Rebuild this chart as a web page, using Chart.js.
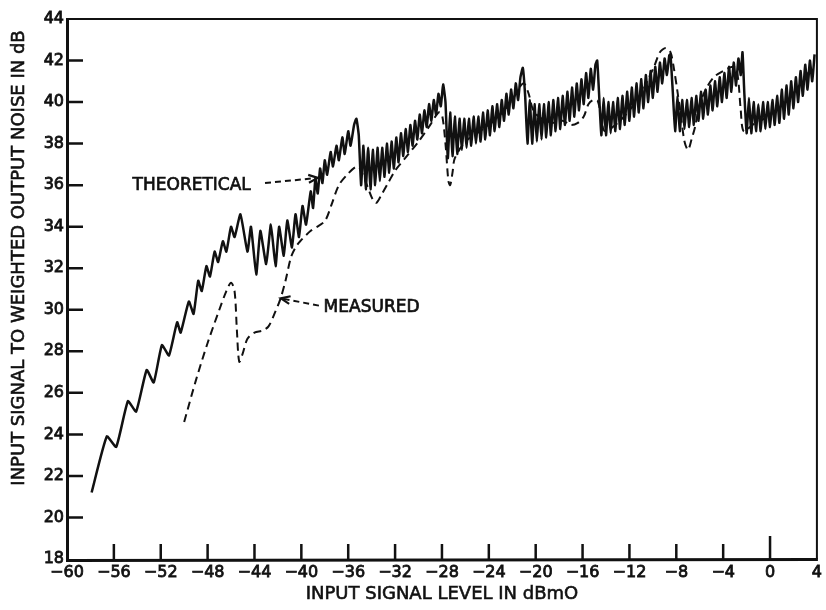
<!DOCTYPE html>
<html>
<head>
<meta charset="utf-8">
<script src="https://cdn.jsdelivr.net/npm/chart.js@4"></script>
<style>
  body { margin: 0; background: #fff; }
  canvas { display: block; }
</style>
</head>
<body>
<canvas id="chart" width="826" height="610"></canvas>
<script>
// input level (dBm0) vs S/N (dB)
const theoretical = [
  [-57.9,21.2],[-56.6,23.9],[-55.8,23.4],[-54.8,25.6],[-54.1,25.1],[-53.2,27.1],[-52.6,26.5],
  [-51.9,28.3],[-51.3,27.8],[-50.6,29.4],[-50.3,28.9],[-49.6,30.4],[-49.2,29.8],[-48.8,31.4],
  [-48.5,30.9],[-48.1,32.1],[-47.8,31.6],[-47.4,32.8],[-47.1,32.3],[-46.7,33.3],[-46.4,32.8],
  [-46.0,34.0],[-45.7,33.5],[-45.2,34.6],[-44.6,32.8],[-44.3,34.0],[-43.85,31.7],[-43.5,33.8],
  [-43.0,32.2],[-42.6,34.1],[-42.2,32.1],[-41.9,34.0],[-41.5,32.6],[-41.2,34.3],[-40.8,33.0],
  [-40.5,34.6],[-40.2,33.5],[-39.9,35.0],[-39.6,34.1],[-39.2,35.7],[-39.0,34.9],[-38.8,36.3],
  [-38.6,35.6],[-38.4,36.8],[-38.2,36.1],[-38.0,37.2],[-37.8,36.5],[-37.5,37.6],[-37.3,36.9],
  [-37.0,37.9],[-36.8,37.2],[-36.5,38.3],[-36.3,37.5],[-36.0,38.6],[-35.8,37.9],[-35.5,38.9],
  [-35.3,39.2],
  [-35.1,38.4],[-34.9,36.0],[-34.7,37.9],[-34.5,35.8],[-34.3,37.8],[-34.1,35.8],[-33.9,37.7],
  [-33.7,36.0],[-33.5,37.8],[-33.3,36.2],[-33.1,37.8],[-32.9,36.4],[-32.7,38.0],[-32.5,36.6],
  [-32.3,38.1],[-32.1,36.8],[-31.9,38.3],[-31.7,37.1],[-31.5,38.5],[-31.3,37.4],[-31.1,38.7],
  [-30.9,37.6],[-30.7,38.9],[-30.5,37.9],[-30.3,39.1],[-30.1,38.2],[-29.9,39.4],[-29.7,38.5],
  [-29.5,39.6],[-29.3,38.8],[-29.1,39.9],[-28.9,39.1],[-28.7,40.1],[-28.5,39.4],[-28.3,40.4],
  [-28.1,39.8],[-27.9,40.85],
  [-27.7,40.0],[-27.5,37.3],[-27.3,39.5],[-27.1,37.4],[-26.9,39.3],[-26.7,37.5],[-26.5,39.2],
  [-26.3,37.7],[-26.1,39.2],[-25.9,37.8],[-25.7,39.2],[-25.5,37.9],[-25.3,39.3],[-25.1,38.0],
  [-24.9,39.3],[-24.7,38.1],[-24.5,39.5],[-24.3,38.2],[-24.1,39.6],[-23.9,38.4],[-23.7,39.8],
  [-23.5,38.6],[-23.3,39.9],[-23.1,38.8],[-22.9,40.1],[-22.7,39.1],[-22.5,40.4],[-22.3,39.4],
  [-22.1,40.6],[-21.9,39.7],[-21.7,40.9],[-21.5,40.1],[-21.3,41.2],[-21.1,41.65],
  [-20.9,40.3],[-20.7,38.0],[-20.5,40.1],[-20.3,38.0],[-20.1,39.9],[-19.9,38.1],[-19.7,39.9],
  [-19.5,38.2],[-19.3,39.9],[-19.1,38.3],[-18.9,40.0],[-18.7,38.4],[-18.5,40.1],[-18.3,38.6],
  [-18.1,40.2],[-17.9,38.7],[-17.7,40.3],[-17.5,38.9],[-17.3,40.5],[-17.1,39.1],[-16.9,40.7],
  [-16.7,39.3],[-16.5,40.9],[-16.3,39.6],[-16.1,41.1],[-15.9,39.9],[-15.7,41.4],[-15.5,40.2],
  [-15.3,41.6],[-15.1,40.6],[-14.9,41.8],[-14.75,42.0],
  [-14.6,40.5],[-14.4,38.4],[-14.2,40.2],[-14.0,38.4],[-13.8,40.0],[-13.6,38.5],[-13.4,40.0],
  [-13.2,38.6],[-13.0,40.2],[-12.8,38.7],[-12.6,40.3],[-12.4,38.9],[-12.2,40.5],[-12.0,39.1],
  [-11.8,40.7],[-11.6,39.3],[-11.4,40.9],[-11.2,39.5],[-11.0,41.1],[-10.8,39.7],[-10.6,41.3],
  [-10.4,40.0],[-10.2,41.5],[-10.0,40.2],[-9.8,41.7],[-9.6,40.5],[-9.4,41.9],[-9.2,40.9],
  [-9.0,42.1],[-8.8,41.3],[-8.6,42.25],[-8.5,42.3],
  [-8.3,40.5],[-8.1,38.6],[-7.9,40.3],[-7.7,38.6],[-7.5,40.1],[-7.3,38.7],[-7.1,40.1],
  [-6.9,38.8],[-6.7,40.2],[-6.5,38.9],[-6.3,40.3],[-6.1,39.1],[-5.9,40.5],[-5.7,39.2],
  [-5.5,40.6],[-5.3,39.4],[-5.1,40.8],[-4.9,39.6],[-4.7,41.0],[-4.5,39.8],[-4.3,41.2],
  [-4.1,40.0],[-3.9,41.4],[-3.7,40.2],[-3.5,41.7],[-3.3,40.5],[-3.1,41.9],[-2.9,40.8],
  [-2.7,42.1],[-2.5,41.3],[-2.35,42.4],
  [-2.2,40.5],[-2.0,38.5],[-1.8,40.2],[-1.6,38.5],[-1.4,40.0],[-1.2,38.6],[-1.0,39.9],
  [-0.8,38.6],[-0.6,40.0],[-0.4,38.7],[-0.2,40.0],[0.0,38.8],[0.2,40.1],[0.4,38.9],
  [0.6,40.3],[0.8,39.0],[1.0,40.6],[1.2,39.2],[1.4,40.8],[1.6,39.4],[1.8,41.0],
  [2.0,39.7],[2.2,41.2],[2.4,40.0],[2.6,41.5],[2.8,40.3],[3.0,41.8],[3.2,40.6],
  [3.4,42.0],[3.6,41.0],[3.8,42.3]
];

const measured = [
  [-50.0,24.6],[-49.0,26.6],[-48.0,28.4],[-47.0,30.0],[-46.4,30.9],[-46.0,31.3],[-45.7,30.9],
  [-45.5,29.0],[-45.3,27.5],[-45.0,27.9],[-44.6,28.6],[-44.0,28.9],[-43.3,29.0],[-42.8,29.2],
  [-42.3,29.8],[-41.8,30.5],[-41.35,31.4],[-40.9,32.5],[-40.5,33.0],[-40.1,33.3],[-39.2,33.8],
  [-38.5,34.05],[-37.95,34.3],[-37.4,35.1],[-36.8,36.0],[-36.1,36.5],[-35.3,36.9],[-35.0,36.8],
  [-34.4,36.0],[-33.9,35.3],[-33.6,35.15],[-33.2,35.5],[-32.6,36.1],[-32.0,36.7],[-31.0,37.4],
  [-30.0,38.1],[-29.0,38.9],[-28.3,39.5],[-28.0,39.4],[-27.7,38.0],[-27.45,36.2],[-27.3,36.0],
  [-27.1,36.6],[-26.9,37.3],[-26.0,38.1],[-25.0,38.5],[-24.0,38.9],[-23.0,39.4],[-22.0,40.1],
  [-21.4,40.7],[-21.0,40.9],[-20.6,40.4],[-20.2,39.6],[-19.5,39.2],[-18.5,39.0],[-17.7,39.1],
  [-17.0,38.9],[-16.4,39.0],[-15.9,39.3],[-15.5,39.9],[-15.1,40.1],[-14.7,40.05],[-14.4,39.2],
  [-14.1,38.6],[-13.0,39.0],[-12.0,39.6],[-11.0,40.4],[-10.4,41.1],[-9.9,41.7],[-9.4,42.4],
  [-8.9,42.6],[-8.5,42.4],[-8.2,41.6],[-7.9,40.5],[-7.6,39.3],[-7.3,38.1],[-7.0,37.7],
  [-6.7,38.2],[-6.4,38.8],[-6.0,39.9],[-5.4,40.7],[-4.8,41.2],[-4.0,41.5],[-3.2,41.7],
  [-2.9,41.6],[-2.7,41.0],[-2.5,39.6],[-2.25,38.6],[-1.5,38.9],[-0.5,39.2],[0.5,39.6],
  [1.5,40.1],[2.5,40.8],[3.5,41.6]
];

const xTicks = [-60,-56,-52,-48,-44,-40,-36,-32,-28,-24,-20,-16,-12,-8,-4,0,4];
const yTicks = [18,20,22,24,26,28,30,32,34,36,38,40,42,44];

// text labels with leader arrows (data coords)
const notes = [
  { text: 'THEORETICAL', at: [-54.4, 36.0], from: [-43.1, 36.1], to: [-38.6, 36.35] },
  { text: 'MEASURED', at: [-38.1, 30.1], from: [-38.5, 30.2], to: [-41.75, 30.55] }
];

const xTitle = 'INPUT SIGNAL LEVEL IN dBmO';
const yTitle = 'INPUT SIGNAL TO WEIGHTED OUTPUT NOISE IN dB';

const INK = '#111';
const fmt = v => (v < 0 ? '\u2212' + Math.abs(v) : String(v));

function heavyText(ctx, s, x, y) {
  ctx.fillText(s, x, y);
  ctx.strokeText(s, x, y);
}

const framePlugin = {
  id: 'frame',
  afterDatasetsDraw(chart) {
    const ctx = chart.ctx;
    const a = chart.chartArea;
    const xs = chart.scales.x, ys = chart.scales.y;
    ctx.save();
    ctx.strokeStyle = INK;
    ctx.lineCap = 'butt';

    // box
    ctx.lineWidth = 3;
    ctx.beginPath();
    ctx.moveTo(a.left + 0.5, a.top - 1);
    ctx.lineTo(a.left + 0.5, a.bottom + 1.5);
    ctx.lineTo(a.right + 1, a.bottom + 0.5);
    ctx.stroke();
    ctx.lineWidth = 2;
    ctx.beginPath();
    ctx.moveTo(a.left, a.top);
    ctx.lineTo(a.right, a.top);
    ctx.lineTo(a.right, a.bottom);
    ctx.stroke();

    // inward tick marks
    ctx.lineWidth = 2.5;
    ctx.beginPath();
    xTicks.forEach(v => {
      if (v === xTicks[0] || v === xTicks[xTicks.length - 1]) return;
      const px = xs.getPixelForValue(v);
      const len = v === 0 ? 23 : 15;
      ctx.moveTo(px, a.bottom);
      ctx.lineTo(px, a.bottom - len);
    });
    yTicks.forEach(v => {
      if (v === yTicks[0] || v === yTicks[yTicks.length - 1]) return;
      const py = ys.getPixelForValue(v);
      ctx.moveTo(a.left, py);
      ctx.lineTo(a.left + 16, py);
    });
    ctx.stroke();

    // annotations
    ctx.fillStyle = INK;
    ctx.font = '17px "DejaVu Sans"';
    ctx.textBaseline = 'middle';
    ctx.textAlign = 'left';
    notes.forEach(n => {
      ctx.lineWidth = 0.7;
      heavyText(ctx, n.text, xs.getPixelForValue(n.at[0]), ys.getPixelForValue(n.at[1]));
      const x0 = xs.getPixelForValue(n.from[0]), y0 = ys.getPixelForValue(n.from[1]);
      const x1 = xs.getPixelForValue(n.to[0]), y1 = ys.getPixelForValue(n.to[1]);
      ctx.lineWidth = 2;
      ctx.setLineDash([6, 4]);
      ctx.beginPath();
      ctx.moveTo(x0, y0);
      ctx.lineTo(x1, y1);
      ctx.stroke();
      ctx.setLineDash([]);
      const ang = Math.atan2(y1 - y0, x1 - x0);
      ctx.lineWidth = 2.2;
      ctx.beginPath();
      ctx.moveTo(x1 - 10 * Math.cos(ang - 0.4), y1 - 10 * Math.sin(ang - 0.4));
      ctx.lineTo(x1, y1);
      ctx.lineTo(x1 - 10 * Math.cos(ang + 0.4), y1 - 10 * Math.sin(ang + 0.4));
      ctx.stroke();
    });

    // axis titles
    ctx.font = '18px "DejaVu Sans"';
    ctx.textAlign = 'center';
    ctx.lineWidth = 0.6;
    heavyText(ctx, xTitle, (a.left + a.right) / 2, 594);
    ctx.translate(19, 258);
    ctx.rotate(-Math.PI / 2);
    heavyText(ctx, yTitle, 0, 0);
    ctx.restore();
  }
};

const tickFont = { family: 'DejaVu Sans', size: 16 };

const ctx = document.getElementById('chart').getContext('2d');
new Chart(ctx, {
  type: 'scatter',
  data: {
    datasets: [
      {
        label: 'Theoretical',
        data: theoretical.map(p => ({ x: p[0], y: p[1] })),
        showLine: true,
        borderColor: INK,
        borderWidth: 2.5,
        pointRadius: 0,
        tension: 0.15
      },
      {
        label: 'Measured',
        data: measured.map(p => ({ x: p[0], y: p[1] })),
        showLine: true,
        borderColor: INK,
        borderWidth: 2,
        borderDash: [8, 5],
        pointRadius: 0,
        tension: 0.3
      }
    ]
  },
  options: {
    responsive: false,
    animation: false,
    devicePixelRatio: 1,
    layout: { padding: { left: 0, top: 19, right: 5, bottom: 0 } },
    plugins: { legend: { display: false }, tooltip: { enabled: false } },
    scales: {
      x: {
        type: 'linear',
        min: -60,
        max: 4,
        afterFit(scale) { scale.height = 51; },
        afterBuildTicks(scale) { scale.ticks = xTicks.map(v => ({ value: v })); },
        grid: { display: false, drawTicks: false },
        border: { display: false },
        ticks: {
          autoSkip: false,
          maxRotation: 0,
          padding: 4,
          color: INK,
          textStrokeColor: INK,
          textStrokeWidth: 0.8,
          font: tickFont,
          callback: v => fmt(v)
        }
      },
      y: {
        type: 'linear',
        min: 18,
        max: 44,
        afterFit(scale) { scale.width = 67; },
        afterBuildTicks(scale) { scale.ticks = yTicks.map(v => ({ value: v })); },
        grid: { display: false, drawTicks: false },
        border: { display: false },
        ticks: {
          padding: 3,
          color: INK,
          textStrokeColor: INK,
          textStrokeWidth: 0.8,
          font: tickFont,
          callback: v => fmt(v)
        }
      }
    }
  },
  plugins: [framePlugin]
});
</script>
</body>
</html>
